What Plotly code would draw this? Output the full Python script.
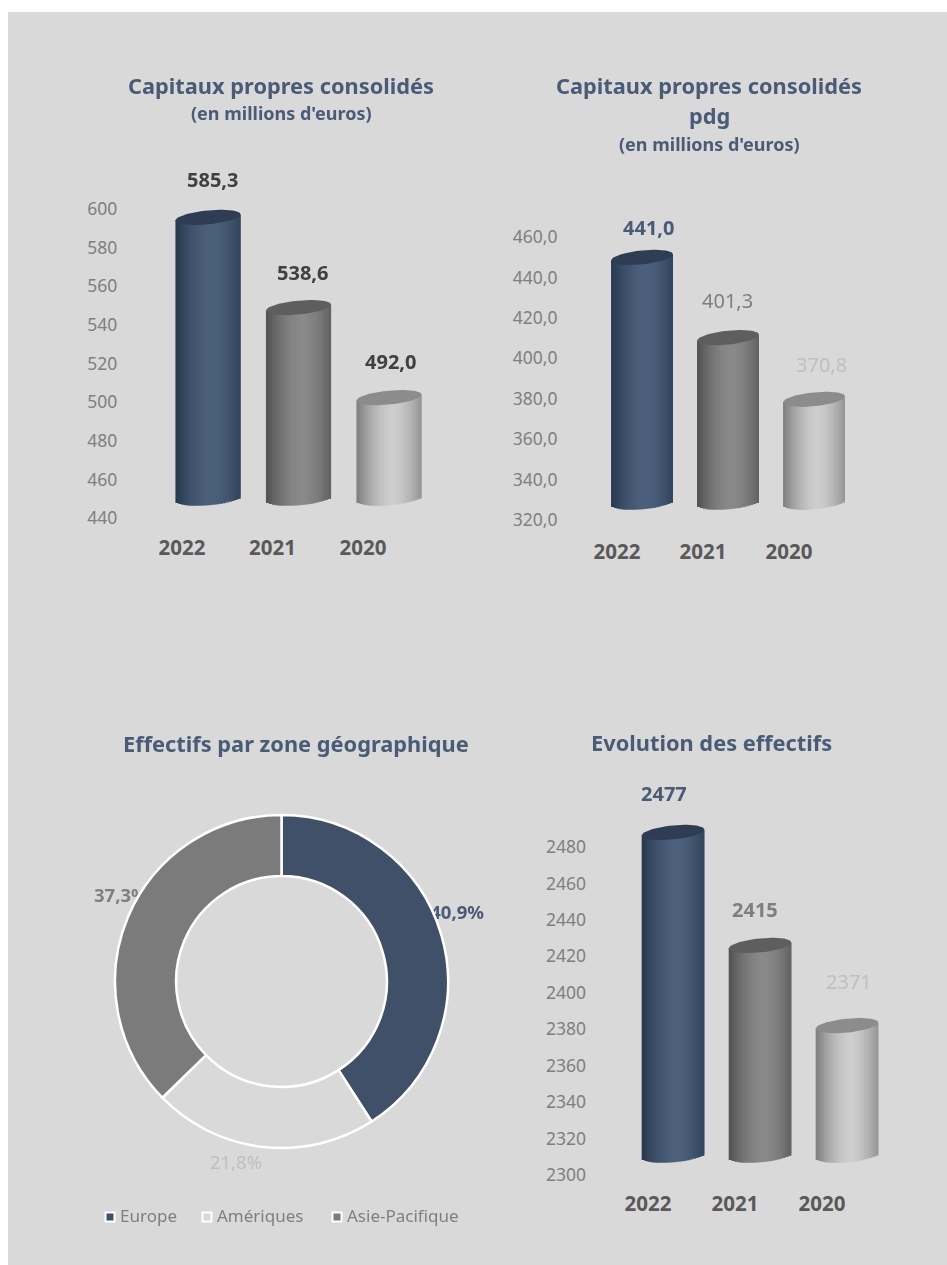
import numpy as np
import plotly.graph_objects as go

# ---------- data ----------
years = ["2022", "2021", "2020"]
capitaux = [585.3, 538.6, 492.0]
capitaux_pdg = [441.0, 401.3, 370.8]
effectifs = [2477, 2415, 2371]
ticks_capitaux = [440, 460, 480, 500, 520, 540, 560, 580, 600]
ticks_pdg = [320, 340, 360, 380, 400, 420, 440, 460]
ticks_effectifs = [2300, 2320, 2340, 2360, 2380, 2400, 2420, 2440, 2460, 2480]
zones = ["Europe", "Amériques", "Asie-Pacifique"]
parts = [40.9, 21.8, 37.3]

# ---------- page geometry (the script below removes the page body's margin) ----------
OFF = 0
W, H = 947, 1265
FONT = "Noto Sans"
NAVY_T = "#4A5B77"
GREY_TICK = "#7F7F7F"
GREY_CAT = "#595959"
BG = "#D9D9D9"
ZONE_COLORS = ["#3F5068", BG, "#7B7B7B"]


def px(x):
    return (x - OFF) / W


def py(y):
    return 1 - (y - OFF) / H


# edge / centre of each cylinder, top ellipse
CYL = [("#27374E", "#4C607C", "#2E3D54"),
       ("#505050", "#898989", "#5E5E5E"),
       ("#7C7C7C", "#CDCDCD", "#8C8C8C")]


def mix(a, b, t):
    ca = [int(a[i:i + 2], 16) for i in (1, 3, 5)]
    cb = [int(b[i:i + 2], 16) for i in (1, 3, 5)]
    return "rgb(%d,%d,%d)" % tuple(round(p + (q - p) * t) for p, q in zip(ca, cb))


fig = go.Figure()
layout = dict(
    width=W, height=H, autosize=False, showlegend=False,
    margin=dict(l=0, r=0, t=0, b=0, pad=0, autoexpand=False),
    paper_bgcolor="white", plot_bgcolor="rgba(0,0,0,0)",
    separators=", ",
    font=dict(family=FONT),
    barmode="overlay",
    shapes=[dict(type="rect", xref="paper", yref="paper", x0=px(8), x1=1,
                 y0=0, y1=py(12), fillcolor=BG, line_width=0, layer="below")],
    annotations=[],
)

N = 22
HIDDEN = dict(visible=False, showgrid=False, zeroline=False, fixedrange=True)


def panel(idx, values, ticks, tickformat, labelfmt, cat_x0, cat_step, y_lo_px, y_hi_px,
          dx, dy, bar_frac, tsize, label_styles):
    """Visible axes carry the ticks; a hidden pair, shifted by the 3-D depth,
    carries the cylinders at the same data scale."""
    lo, hi = ticks[0], ticks[-1]
    scale = (y_lo_px - y_hi_px) / (hi - lo)
    x0 = cat_x0 - cat_step / 2
    x1 = x0 + 3 * cat_step
    a, b = idx * 2 - 1, idx * 2
    layout[f"xaxis{a}"] = dict(domain=[px(x0), px(x1)], range=[-0.5, 2.5], anchor=f"y{a}",
                               showgrid=False, zeroline=False, showline=False, fixedrange=True,
                               tickmode="array", tickvals=[0, 1, 2], ticktext=years,
                               ticks="outside", ticklen=tsize["xlen"], tickcolor="rgba(0,0,0,0)",
                               tickfont=dict(size=tsize["cat"], color=GREY_CAT, family=FONT, weight="bold"))
    layout[f"yaxis{a}"] = dict(domain=[py(y_lo_px), py(y_hi_px)], range=[lo, hi], anchor=f"x{a}",
                               showgrid=False, zeroline=False, showline=False, fixedrange=True,
                               tickmode="array", tickvals=ticks, tickformat=tickformat,
                               ticks="outside", ticklen=tsize["ylen"], tickcolor="rgba(0,0,0,0)",
                               tickfont=dict(size=tsize["tick"], color=GREY_TICK, family=FONT))
    fig.add_trace(go.Scatter(x=[0, 1, 2], y=values, mode="markers", opacity=0, showlegend=False,
                             hoverinfo="skip", xaxis=f"x{a}", yaxis=f"y{a}"))

    # cylinder axes: same scale, moved by (dx, -dy), with spare room so nothing clips
    pad_b, pad_t = 40, 60
    by0, by1 = y_lo_px - dy + pad_b, y_hi_px - dy - pad_t
    layout[f"xaxis{b}"] = dict(HIDDEN, domain=[px(x0 + dx), px(x1 + dx)], range=[-0.5, 2.5], anchor=f"y{b}")
    layout[f"yaxis{b}"] = dict(HIDDEN, domain=[py(by0), py(by1)],
                               range=[lo - pad_b / scale, hi + pad_t / scale], anchor=f"x{b}")

    wid = bar_frac
    semi_b, tilt = 7.0, 3.0
    edges = np.linspace(-1, 1, N + 1)
    mids = (edges[:-1] + edges[1:]) / 2
    strip = wid / N
    for k, u in enumerate(mids):
        shade = np.clip(1 - abs((u - 0.1) / 1.1) ** 1.7, 0, 1)
        arc = -semi_b * np.sqrt(max(1 - u * u, 0)) + tilt * u
        base = lo + arc / scale
        # each strip starts on its own left edge and runs past the next one, which paints over it
        left = edges[k] * wid / 2
        run = wid / 2 - left if k == N - 1 else strip * 2.0
        fig.add_trace(go.Bar(
            x=[0, 1, 2], y=[v - base + tilt * u / scale for v in values], base=base,
            offset=left, width=min(run, wid / 2 - left),
            marker=dict(color=[mix(c[0], c[1], shade) for c in CYL], line_width=0),
            showlegend=False, hoverinfo="skip", xaxis=f"x{b}", yaxis=f"y{b}"))
    theta = np.linspace(0, 2 * np.pi, 80)
    for i, v in enumerate(values):
        fig.add_trace(go.Scatter(
            x=i + np.cos(theta) * wid / 2,
            y=v + (tilt * np.cos(theta) + semi_b * np.sin(theta)) / scale,
            mode="lines", fill="toself", fillcolor=CYL[i][2], line=dict(width=0),
            showlegend=False, hoverinfo="skip", xaxis=f"x{b}", yaxis=f"y{b}"))
        color, bold, xs, ys = label_styles[i]
        text = format(v, labelfmt).replace(".", ",")
        layout["annotations"].append(dict(
            x=i, y=v, xref=f"x{b}", yref=f"y{b}", text=text, showarrow=False,
            xshift=xs, yshift=ys, yanchor="middle", xanchor="center",
            font=dict(size=tsize["lab"], color=color, family=FONT, weight="bold" if bold else "normal")))


SIZES = dict(tick=17.5, cat=20.5, lab=20, xlen=11, ylen=15)
D = "#404040"
panel(1, capitaux, ticks_capitaux, "d", ".1f", 182, 90.5, 518, 209, 26, 20, 0.72, SIZES,
      [(D, True, 4, 38), (D, True, 4, 35), (D, True, 1, 36)])
panel(2, capitaux_pdg, ticks_pdg, ".1f", ".1f", 617, 86, 520, 237, 25, 18, 0.72, dict(SIZES, ylen=12, xlen=13),
      [(NAVY_T, True, 6, 30), (GREY_TICK, False, -1, 37), ("#BFBFBF", False, 7, 35)])
panel(4, effectifs, ticks_effectifs, "d", "d", 648, 87, 1175, 847, 25, 20, 0.72, dict(SIZES, ylen=14, xlen=10),
      [(NAVY_T, True, -9, 39), (GREY_TICK, True, -5, 36), ("#BFBFBF", False, 2, 44)])

# ---------- percent labels sit under the ring, so the ring cuts into them ----------
layout["xaxis9"] = dict(HIDDEN, domain=[0, 1], range=[OFF, OFF + W], anchor="y9")
layout["yaxis9"] = dict(HIDDEN, domain=[0, 1], range=[OFF + H, OFF], anchor="x9")
pct = [f"{p:.1f}".replace(".", ",") + "%" for p in parts]
for txt, x, y, pos, col in [(pct[0], 484, 914, "middle left", NAVY_T),
                            (pct[1], 236, 1164, "middle center", "#BFBFBF"),
                            (pct[2], 94, 897, "middle right", GREY_TICK)]:
    bold = col != "#BFBFBF"
    fig.add_trace(go.Scatter(x=[x], y=[y], mode="text", text=[txt], textposition=pos,
                             textfont=dict(size=18.5, color=col, family=FONT, weight="bold" if bold else "normal"),
                             showlegend=False, hoverinfo="skip", xaxis="x9", yaxis="y9"))

# ---------- donut ----------
fig.add_trace(go.Pie(
    labels=zones, values=parts, hole=0.633, sort=False, direction="clockwise", rotation=0,
    marker=dict(colors=ZONE_COLORS, line=dict(color="white", width=2.5)),
    textinfo="none", hoverinfo="skip", showlegend=False,
    domain=dict(x=[px(115), px(448)], y=[py(1148), py(815)]),
))

# ---------- legend row ----------
for name, col, x in zip(zones, ZONE_COLORS, [110, 207, 337]):
    fig.add_trace(go.Scatter(x=[x], y=[1217], mode="markers",
                             marker=dict(symbol="square", size=9, color=col, line=dict(color="white", width=2)),
                             showlegend=False, hoverinfo="skip", xaxis="x9", yaxis="y9"))
    fig.add_trace(go.Scatter(x=[x + 10], y=[1218], mode="text", text=[name], textposition="middle right",
                             textfont=dict(size=17, color=GREY_TICK, family=FONT),
                             showlegend=False, hoverinfo="skip", xaxis="x9", yaxis="y9"))


# ---------- titles ----------
def title(text, x, y, size, color=NAVY_T):
    layout["annotations"].append(dict(
        x=px(x), y=py(y), xref="paper", yref="paper", text=text, showarrow=False,
        xanchor="center", yanchor="middle",
        font=dict(size=size, color=color, family=FONT, weight="bold")))


title("Capitaux propres consolidés", 281, 85, 21.8)
title("(en millions d'euros)", 281, 113, 18)
title("Capitaux propres consolidés", 709, 85, 21.8)
title("pdg", 709, 115, 21.8)
title("(en millions d'euros)", 709, 144, 18)
title("Effectifs par zone géographique", 296, 743, 21.8)
title("Evolution des effectifs", 711, 742, 21.8)

fig.update_layout(**layout)
fig.write_html("out.html", config=dict(displayModeBar=False),
               default_width=f"{W}px", default_height=f"{H}px",
               post_script="document.body.style.margin='0';document.documentElement.style.overflow='hidden';")
